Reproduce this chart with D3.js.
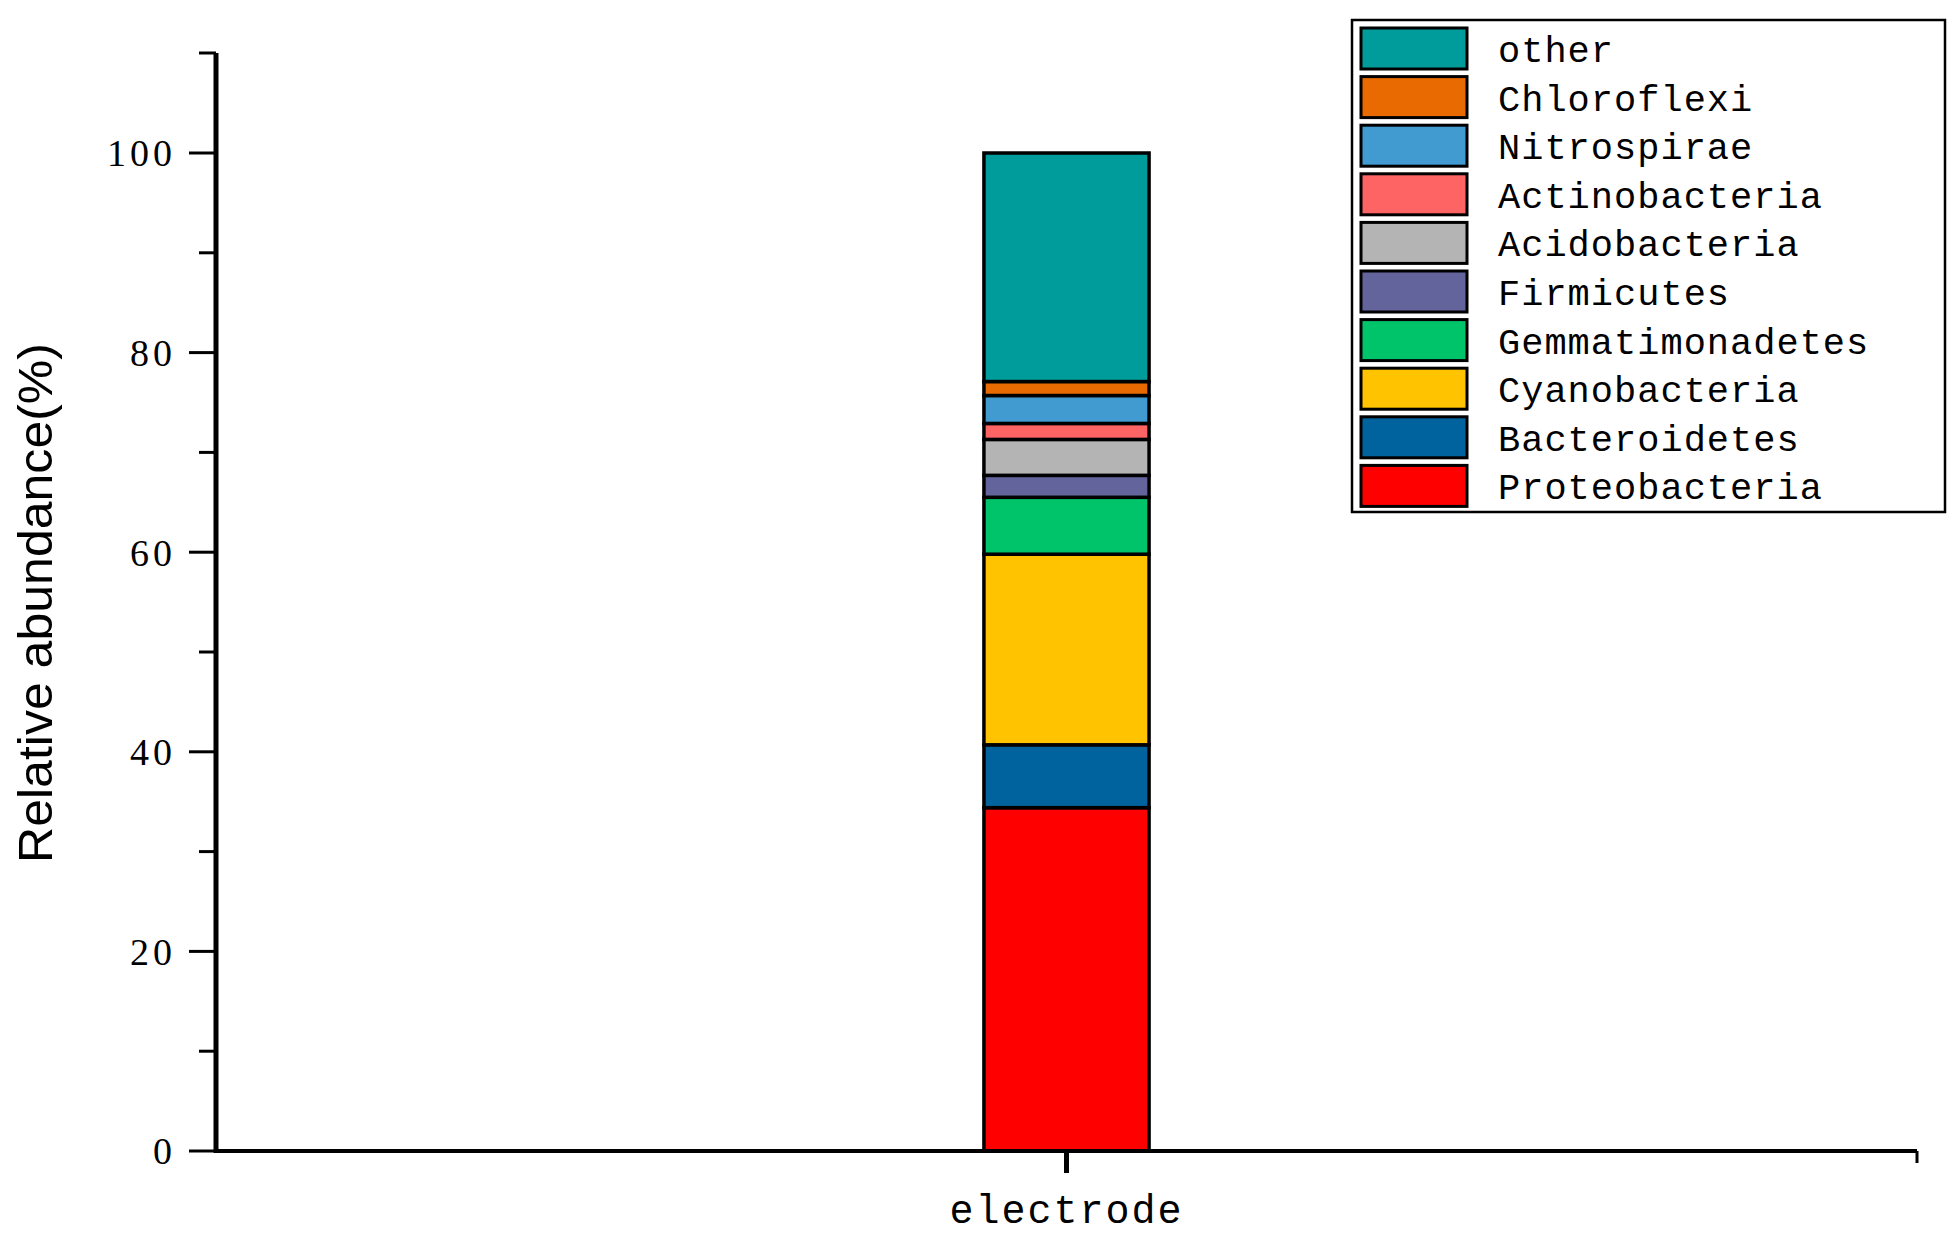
<!DOCTYPE html><html><head><meta charset="utf-8"><script src="https://cdn.jsdelivr.net/npm/d3@7"></script>
<style>body{margin:0;background:#fff}</style></head><body><svg id="c" width="1959" height="1239"></svg><script>
const categories=["electrode"];
const series=["Proteobacteria","Bacteroidetes","Cyanobacteria","Gemmatimonadetes","Firmicutes","Acidobacteria","Actinobacteria","Nitrospirae","Chloroflexi","other"];
const values=[34.4,6.3,19.1,5.7,2.2,3.6,1.6,2.8,1.4,22.9];
const colors=["#FF0000","#00639E","#FFC300","#00C46A","#64649C","#B4B4B4","#FF6464","#419AD0","#E86A00","#009C9C"];
const yTicks=[0,20,40,60,80,100];
const svg=d3.select("#c");
const x0=216,x1=1917,yTop=53,yZero=1151;
const y=d3.scaleLinear().domain([0,100]).range([yZero,153]);
const x=d3.scaleBand().domain(categories).range([x0,x1]).paddingInner(0).paddingOuter(4.65);
// bars
let cum=0;const segs=values.map((v,i)=>{const s={i,y0:cum,y1:cum+v};cum+=v;return s;});
categories.forEach(c=>{
 svg.append("g").selectAll("rect").data(segs).join("rect")
 .attr("x",x(c)).attr("width",x.bandwidth()).attr("y",d=>y(d.y1)).attr("height",d=>y(d.y0)-y(d.y1))
 .attr("fill",d=>colors[d.i]).attr("stroke","#000").attr("stroke-width",3.5);
});
// y axis
const ya=svg.append("g").attr("transform",`translate(${x0},0)`);
ya.append("line").attr("x1",0).attr("x2",0).attr("y1",yTop).attr("y2",yZero+2).attr("stroke","#000").attr("stroke-width",5);
d3.range(0,101,10).forEach(t=>{const maj=t%20===0;
 ya.append("line").attr("x1",maj?-27:-17).attr("x2",0).attr("y1",y(t)).attr("y2",y(t)).attr("stroke","#000").attr("stroke-width",3);});
ya.append("line").attr("x1",-17).attr("x2",0).attr("y1",yTop).attr("y2",yTop).attr("stroke","#000").attr("stroke-width",3);
ya.selectAll("text.t").data(yTicks).join("text").attr("x",-40).attr("y",d=>y(d)).attr("dy","0.35em").attr("text-anchor","end")
 .attr("font-family","Liberation Serif").attr("font-size",38).attr("letter-spacing",4).text(d=>d);
// x axis
svg.append("line").attr("x1",x0).attr("x2",x1).attr("y1",yZero).attr("y2",yZero).attr("stroke","#000").attr("stroke-width",4);
svg.append("line").attr("x1",x1).attr("x2",x1).attr("y1",yZero).attr("y2",yZero+12).attr("stroke","#000").attr("stroke-width",3);
categories.forEach(c=>{const cx=x(c)+x.bandwidth()/2;
 svg.append("line").attr("x1",cx).attr("x2",cx).attr("y1",yZero).attr("y2",yZero+22).attr("stroke","#000").attr("stroke-width",5);
 svg.append("text").attr("x",cx).attr("y",yZero+72).attr("text-anchor","middle").attr("font-family","Liberation Mono").attr("font-size",40).attr("letter-spacing",2).text(c);});
// y title
svg.append("text").attr("transform","translate(52,603) rotate(-90)").attr("text-anchor","middle").attr("font-family","Liberation Sans").attr("font-size",48)
 .attr("textLength",520).attr("lengthAdjust","spacingAndGlyphs").text("Relative abundance(%)");
// legend
const lg=svg.append("g");
lg.append("rect").attr("x",1352).attr("y",20).attr("width",593).attr("height",492).attr("fill","#fff").attr("stroke","#000").attr("stroke-width",2.5);
const order=series.map((s,i)=>i).reverse();
order.forEach((i,k)=>{const yy=28+k*48.6;
 lg.append("rect").attr("x",1361).attr("y",yy).attr("width",106).attr("height",41).attr("fill",colors[i]).attr("stroke","#000").attr("stroke-width",3);
 lg.append("text").attr("x",1498).attr("y",yy+21).attr("dy","0.35em").attr("font-family","Liberation Mono").attr("font-size",37).attr("letter-spacing",1).text(series[i]);});
</script></body></html>
